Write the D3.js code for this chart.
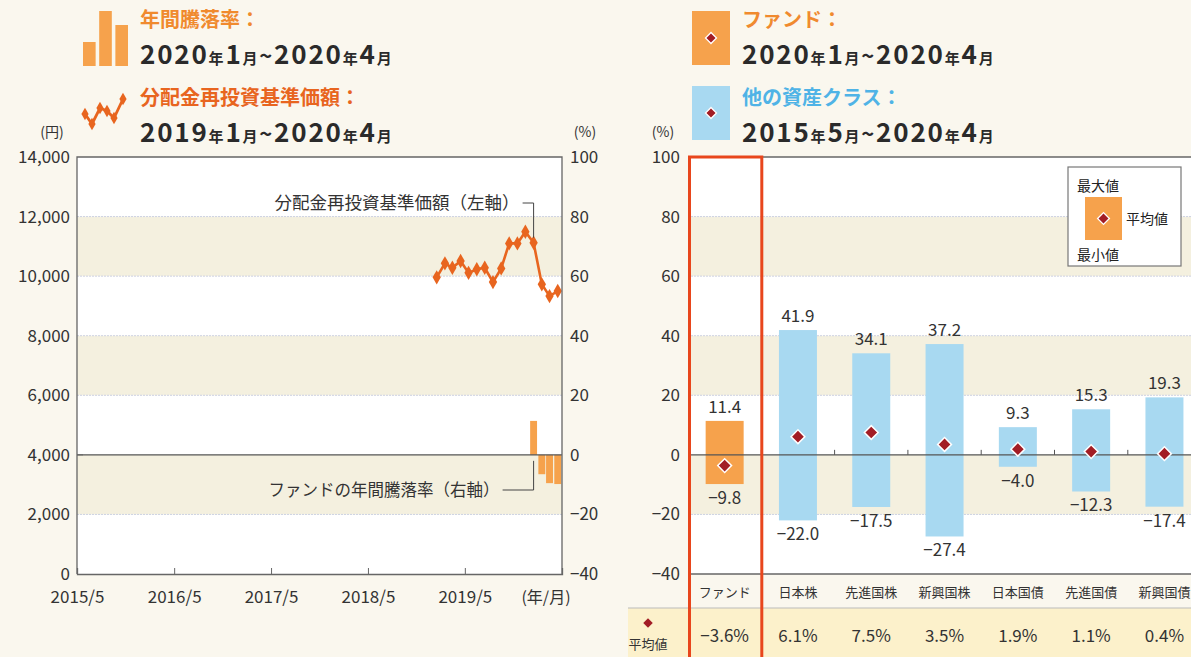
<!DOCTYPE html>
<html><head><meta charset="utf-8">
<script src="https://cdn.jsdelivr.net/npm/d3@7"></script>
<style>
html,body{margin:0;padding:0;background:#faf7ee;}
svg{display:block;font-family:"Noto Sans CJK JP","Noto Sans",sans-serif;}
</style></head><body>
<svg id="c" width="1191" height="657"></svg>
<script>
// ---- data ----
const navMonths = ["2019-01","2019-02","2019-03","2019-04","2019-05","2019-06","2019-07","2019-08","2019-09","2019-10","2019-11","2019-12","2020-01","2020-02","2020-03","2020-04"];
const navValues = [9960,10430,10280,10510,10110,10230,10280,9800,10260,11100,11100,11490,11120,9725,9330,9500];
const retMonths = ["2020-01","2020-02","2020-03","2020-04"];
const retValues = [11.4,-6.5,-9.5,-9.8];
const xTickLabels = ["2015/5","2016/5","2017/5","2018/5","2019/5"];
const leftTicks = [0,2000,4000,6000,8000,10000,12000,14000];
const rightTicks = [-40,-20,0,20,40,60,80,100];
const categories = ["ファンド","日本株","先進国株","新興国株","日本国債","先進国債","新興国債"];
const maxValues = [11.4,41.9,34.1,37.2,9.3,15.3,19.3];
const minValues = [-9.8,-22.0,-17.5,-27.4,-4.0,-12.3,-17.4];
const avgValues = [-3.6,6.1,7.5,3.5,1.9,1.1,0.4];

const ORANGE = "#f6a24c", LINE = "#e8651f", BLUE = "#a8d9f1", DIAM = "#a21d25",
      BAND = "#f4f0df", GRID = "#cdd2e2", TXT = "#333", AX = "#666";
const TICKFS = 17;

const svg = d3.select("#c");
const parseM = d3.timeParse("%Y-%m");
const mid = s => { const d = parseM(s); return new Date(d.getFullYear(), d.getMonth(), 15); };
const styleTicks = g => g.selectAll("text").attr("font-size",TICKFS).attr("fill",TXT).attr("font-family","Noto Sans CJK JP");

// ---- left chart ----
const L = {x0:77, x1:562, y0:157, y1:574};
const xL = d3.scaleTime().domain([new Date(2015,4,1), new Date(2020,4,1)]).range([L.x0, L.x1]);
const yL = d3.scaleLinear().domain([0,14000]).range([L.y1, L.y0]);
const yR = d3.scaleLinear().domain([-40,100]).range([L.y1, L.y0]);

const gL = svg.append("g");
gL.append("rect").attr("x",L.x0).attr("y",L.y0).attr("width",L.x1-L.x0).attr("height",L.y1-L.y0).attr("fill","#fff");
const lBands = d3.pairs(leftTicks).filter((p,i)=> i%2===1);
gL.selectAll(".band").data(lBands).join("rect")
  .attr("x",L.x0).attr("width",L.x1-L.x0)
  .attr("y",d=>yL(d[1])).attr("height",d=>yL(d[0])-yL(d[1])).attr("fill",BAND);
gL.selectAll(".grid").data(leftTicks.filter(t=>t>0 && t<14000 && t!==4000)).join("line")
  .attr("x1",L.x0).attr("x2",L.x1).attr("y1",d=>yL(d)).attr("y2",d=>yL(d))
  .attr("stroke",GRID).attr("stroke-width",1).attr("stroke-dasharray","2,1");

// bars
const mw = xL(new Date(2020,1,1)) - xL(new Date(2020,0,1));
gL.selectAll(".rb").data(retMonths.map((m,i)=>({m, v:retValues[i]}))).join("rect")
  .attr("x",d=>xL(mid(d.m)) - mw*0.42).attr("width",mw*0.84)
  .attr("y",d=>yR(Math.max(0,d.v))).attr("height",d=>Math.abs(yR(d.v)-yR(0)))
  .attr("fill",ORANGE);

// zero line (right axis 0)
gL.append("line").attr("x1",L.x0).attr("x2",L.x1).attr("y1",yR(0)).attr("y2",yR(0)).attr("stroke","#555").attr("stroke-width",1.2);

// line
const navData = navMonths.map((m,i)=>({d:mid(m), v:navValues[i]}));
gL.append("path").datum(navData)
  .attr("d", d3.line().x(d=>xL(d.d)).y(d=>yL(d.v)))
  .attr("fill","none").attr("stroke",LINE).attr("stroke-width",2.6);
gL.selectAll(".pt").data(navData).join("path")
  .attr("d", d3.symbol(d3.symbolDiamond, 60))
  .attr("transform", d=>`translate(${xL(d.d)},${yL(d.v)})`).attr("fill",LINE);

// frame
gL.append("path").attr("d",`M${L.x0},${L.y1}V${L.y0}H${L.x1}V${L.y1}`).attr("fill","none").attr("stroke",AX).attr("stroke-width",1.3);

// axes
const axL = d3.axisLeft(yL).tickValues(leftTicks).tickSize(0).tickPadding(7).tickFormat(d3.format(","));
gL.append("g").attr("transform",`translate(${L.x0},0)`).call(axL)
  .call(g=>{g.select(".domain").remove(); styleTicks(g);});
gL.append("line").attr("x1",L.x0).attr("x2",L.x0+6).attr("y1",yL(4000)).attr("y2",yL(4000)).attr("stroke",AX);
const axR = d3.axisRight(yR).tickValues(rightTicks).tickSize(0).tickPadding(8).tickFormat(d=> d<0 ? "−"+Math.abs(d) : d);
gL.append("g").attr("transform",`translate(${L.x1},0)`).call(axR)
  .call(g=>{g.select(".domain").remove(); styleTicks(g);});
const xTickDates = xTickLabels.map(s=>{const [y,m]=s.split("/"); return new Date(+y, +m-1, 1);});
const axB = d3.axisBottom(xL).tickValues(xTickDates).tickSize(-6).tickPadding(17).tickFormat((d,i)=>xTickLabels[i]);
gL.append("g").attr("transform",`translate(0,${L.y1})`).call(axB)
  .call(g=>{g.select(".domain").attr("stroke",AX).attr("stroke-width",1.3); g.selectAll("line").attr("stroke",AX); styleTicks(g);});
svg.append("text").attr("x",546).attr("y",603).attr("text-anchor","middle").attr("font-size",16).attr("fill",TXT).text("(年/月)");
svg.append("text").attr("x",52).attr("y",137).attr("text-anchor","middle").attr("font-size",14).attr("fill",TXT).text("(円)");
svg.append("text").attr("x",585).attr("y",137).attr("text-anchor","middle").attr("font-size",14).attr("fill",TXT).text("(%)");

// annotations
const peak = navData[11];
const annX = xL(navData[12].d);
svg.append("path").attr("d",`M${annX-11},${203}H${annX}V${yL(peak.v)+6}`).attr("fill","none").attr("stroke","#444").attr("stroke-width",1);
svg.append("text").attr("x",annX-14).attr("y",209).attr("text-anchor","end").attr("font-size",17.5).attr("fill",TXT).text("分配金再投資基準価額（左軸）");
const bX = xL(mid(retMonths[0]));
svg.append("path").attr("d",`M${bX-31},${490}H${bX}V${yR(0)+6}`).attr("fill","none").attr("stroke","#444").attr("stroke-width",1);
svg.append("text").attr("x",bX-34).attr("y",496).attr("text-anchor","end").attr("font-size",16.5).attr("fill",TXT).text("ファンドの年間騰落率（右軸）");

// ---- right chart ----
const R = {x0:688, y0:157, y1:574, step:73.3};
const xC = d3.scaleBand().domain(categories).range([R.x0, R.x0 + R.step*categories.length]);
const yC = d3.scaleLinear().domain([-40,100]).range([R.y1, R.y0]);
const x1R = 1191;
const gR = svg.append("g");
gR.append("rect").attr("x",R.x0).attr("y",R.y0).attr("width",x1R-R.x0).attr("height",R.y1-R.y0).attr("fill","#fff");
const rBands = d3.pairs(rightTicks).filter((p,i)=>i%2===1);
gR.selectAll(".band").data(rBands).join("rect")
  .attr("x",R.x0).attr("width",x1R-R.x0)
  .attr("y",d=>yC(d[1])).attr("height",d=>yC(d[0])-yC(d[1])).attr("fill",BAND);
gR.selectAll(".grid").data(rightTicks.filter(t=>t>-40 && t<100 && t!==0)).join("line")
  .attr("x1",R.x0).attr("x2",x1R).attr("y1",d=>yC(d)).attr("y2",d=>yC(d))
  .attr("stroke",GRID).attr("stroke-dasharray","2,1");
gR.append("line").attr("x1",R.x0).attr("x2",x1R).attr("y1",R.y0).attr("y2",R.y0).attr("stroke",AX).attr("stroke-width",1.3);

const cdata = categories.map((c,i)=>({c, max:maxValues[i], min:minValues[i], avg:avgValues[i], i}));
const bw = 38;
const cx = c => xC(c) + xC.bandwidth()/2;
gR.selectAll(".cb").data(cdata).join("rect")
  .attr("x",d=>cx(d.c)-bw/2).attr("width",bw)
  .attr("y",d=>yC(d.max)).attr("height",d=>yC(d.min)-yC(d.max))
  .attr("fill",d=>d.i===0?ORANGE:BLUE);
// zero line
gR.append("line").attr("x1",R.x0).attr("x2",x1R).attr("y1",yC(0)).attr("y2",yC(0)).attr("stroke","#555").attr("stroke-width",1.2);
gR.selectAll(".zt").data(categories.slice(1)).join("line")
  .attr("x1",d=>xC(d)).attr("x2",d=>xC(d)).attr("y1",yC(0)).attr("y2",yC(0)-5).attr("stroke","#555");
// bottom axis line
gR.append("line").attr("x1",R.x0).attr("x2",x1R).attr("y1",R.y1).attr("y2",R.y1).attr("stroke",AX).attr("stroke-width",1.3);
// diamonds
gR.selectAll(".dm").data(cdata).join("path")
  .attr("d", d3.symbol(d3.symbolSquare, 95))
  .attr("transform", d=>`translate(${cx(d.c)},${yC(d.avg)}) rotate(45)`)
  .attr("fill",DIAM).attr("stroke","#fff").attr("stroke-width",1.5);
// labels
const fmt1 = v => (v<0?"−":"") + Math.abs(v).toFixed(1);
gR.selectAll(".mx").data(cdata).join("text")
  .attr("x",d=>cx(d.c)).attr("y",d=>yC(d.max)-8).attr("text-anchor","middle")
  .attr("font-size",TICKFS).attr("fill",TXT).text(d=>fmt1(d.max));
gR.selectAll(".mn").data(cdata).join("text")
  .attr("x",d=>cx(d.c)).attr("y",d=>yC(d.min)+20).attr("text-anchor","middle")
  .attr("font-size",TICKFS).attr("fill",TXT).text(d=>fmt1(d.min));
// y axis
const axC = d3.axisLeft(yC).tickValues(rightTicks).tickSize(0).tickPadding(8).tickFormat(d=> d<0 ? "−"+Math.abs(d) : d);
gR.append("g").attr("transform",`translate(${R.x0},0)`).call(axC)
  .call(g=>{g.select(".domain").remove(); styleTicks(g);});
svg.append("text").attr("x",663).attr("y",137).attr("text-anchor","middle").attr("font-size",14).attr("fill",TXT).text("(%)");
// category labels
gR.selectAll(".cl").data(categories).join("text")
  .attr("x",d=>cx(d)).attr("y",597).attr("text-anchor","middle")
  .attr("font-size",13).attr("fill",TXT).text(d=>d);
// table row
gR.append("rect").attr("x",628).attr("y",608).attr("width",x1R-628).attr("height",49).attr("fill","#fcf1cb");
gR.append("line").attr("x1",628).attr("x2",x1R).attr("y1",608).attr("y2",608).attr("stroke","#bbb");
gR.append("path").attr("d", d3.symbol(d3.symbolSquare, 45)).attr("transform","translate(648,623) rotate(45)").attr("fill",DIAM);
gR.append("text").attr("x",648).attr("y",649).attr("text-anchor","middle").attr("font-size",13).attr("fill",TXT).text("平均値");
gR.selectAll(".av").data(cdata).join("text")
  .attr("x",d=>cx(d.c)).attr("y",642).attr("text-anchor","middle")
  .attr("font-size",TICKFS).attr("fill",TXT).text(d=>fmt1(d.avg)+"%");
// red highlight box
gR.append("rect").attr("x",xC(categories[0])+1.5).attr("y",R.y0).attr("width",xC.step()-1).attr("height",657-R.y0+5)
  .attr("fill","none").attr("stroke","#e8461c").attr("stroke-width",3);

// legend box (right)
const lg = svg.append("g");
lg.append("rect").attr("x",1068).attr("y",167).attr("width",113).attr("height",99).attr("fill","#fff").attr("stroke","#777").attr("stroke-width",1.2);
lg.append("rect").attr("x",1085).attr("y",197).attr("width",37).attr("height",43).attr("fill",ORANGE);
lg.append("path").attr("d", d3.symbol(d3.symbolSquare, 70)).attr("transform","translate(1103.5,218.5) rotate(45)").attr("fill",DIAM).attr("stroke","#fff").attr("stroke-width",1.3);
lg.append("text").attr("x",1077).attr("y",191).attr("font-size",14).attr("fill","#222").text("最大値");
lg.append("text").attr("x",1126).attr("y",224).attr("font-size",14).attr("fill","#222").text("平均値");
lg.append("text").attr("x",1077).attr("y",260).attr("font-size",14).attr("fill","#222").text("最小値");

// ---- top legends ----
function dateText(x, y, parts){
  const t = svg.append("text").attr("x",x).attr("y",y).attr("fill","#2a2a2a").attr("font-weight","bold").attr("letter-spacing",1.8);
  parts.forEach(p=> t.append("tspan").attr("font-size",p[1]).text(p[0]));
}
const dParts = (y1,m1,y2,m2) => [[y1,26],["年",15],[m1,26],["月",15],["~",22],[y2,26],["年",15],[m2,26],["月",15]];
// bar icon
const iconBars = [24, 55, 41];
const ib = d3.scaleBand().domain([0,1,2]).range([83,128]).paddingInner(0.22);
svg.selectAll(".ib").data(iconBars).join("rect")
  .attr("x",(d,i)=>ib(i)).attr("width",ib.bandwidth()).attr("y",d=>66-d).attr("height",d=>d).attr("fill",ORANGE);
svg.append("text").attr("x",140).attr("y",27).attr("font-size",20).attr("font-weight","bold").attr("fill","#f08a2e").text("年間騰落率：");
dateText(140, 64, dParts("2020","1","2020","4"));
// line icon
const iconLine = [[85,114],[92,124],[100,108],[107,111],[114,118],[123,99]];
svg.append("path").attr("d", d3.line()(iconLine)).attr("fill","none").attr("stroke",LINE).attr("stroke-width",2.8);
svg.selectAll(".il").data(iconLine).join("path").attr("d",d3.symbol(d3.symbolDiamond,45)).attr("transform",d=>`translate(${d[0]},${d[1]})`).attr("fill",LINE);
svg.append("text").attr("x",140).attr("y",105).attr("font-size",20).attr("font-weight","bold").attr("fill","#e8651f").text("分配金再投資基準価額：");
dateText(140, 142, dParts("2019","1","2020","4"));

// right legends
svg.append("rect").attr("x",692).attr("y",11).attr("width",38).attr("height",54).attr("fill",ORANGE);
svg.append("path").attr("d", d3.symbol(d3.symbolSquare, 60)).attr("transform","translate(711,38) rotate(45)").attr("fill",DIAM).attr("stroke","#fff").attr("stroke-width",1.3);
svg.append("text").attr("x",742).attr("y",27).attr("font-size",20).attr("font-weight","bold").attr("fill","#f08a2e").text("ファンド：");
dateText(742, 64, dParts("2020","1","2020","4"));
svg.append("rect").attr("x",692).attr("y",86).attr("width",38).attr("height",54).attr("fill",BLUE);
svg.append("path").attr("d", d3.symbol(d3.symbolSquare, 60)).attr("transform","translate(711,113) rotate(45)").attr("fill",DIAM).attr("stroke","#fff").attr("stroke-width",1.3);
svg.append("text").attr("x",742).attr("y",105).attr("font-size",20).attr("font-weight","bold").attr("fill","#4fb3e6").text("他の資産クラス：");
dateText(742, 142, dParts("2015","5","2020","4"));
</script>
</body></html>
